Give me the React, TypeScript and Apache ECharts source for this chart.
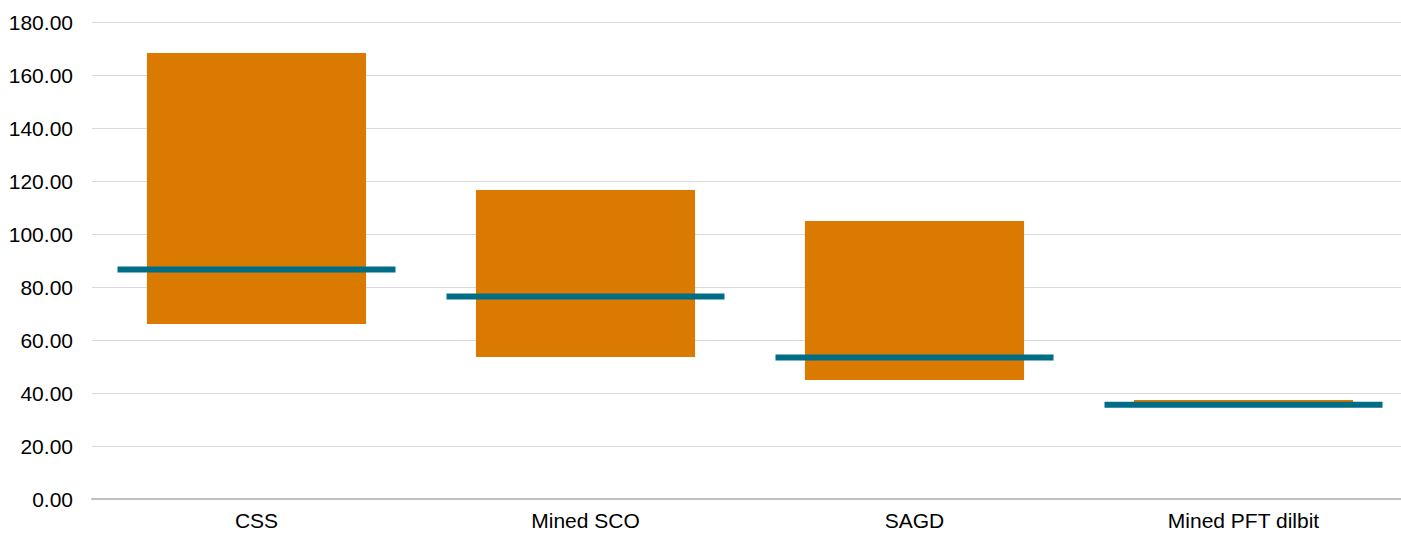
import React, { useEffect, useRef } from "react";
import * as echarts from "echarts";

const categories = ["CSS", "Mined SCO", "SAGD", "Mined PFT dilbit"];
const lowValues = [66.0, 53.6, 44.9, 36.5];
const highValues = [168.3, 116.6, 104.9, 37.4];
const markerValues = [86.6, 76.4, 53.4, 35.6];

export default function App() {
  const ref = useRef<HTMLDivElement>(null);
  useEffect(() => {
    if (!ref.current) return;
    const chart = echarts.init(ref.current, null, { renderer: "svg" });
    const font = "'Liberation Sans', Arial, sans-serif";
    chart.setOption({
      animation: false,
      grid: { left: 92, top: 22, width: 1316, height: 477, containLabel: false },
      xAxis: {
        type: "category",
        data: categories,
        axisLine: { lineStyle: { color: "#bfbfbf", width: 2 } },
        axisTick: { show: false },
        axisLabel: { color: "#000", fontFamily: font, fontSize: 21, margin: 11 },
      },
      yAxis: {
        type: "value",
        min: 0,
        max: 180,
        interval: 20,
        axisLine: { show: false },
        axisTick: { show: false },
        splitLine: { lineStyle: { color: "#d9d9d9", width: 1 } },
        axisLabel: {
          color: "#000",
          fontFamily: font,
          fontSize: 21,
          margin: 19,
          formatter: (v: number) => v.toFixed(2),
        },
      },
      series: [
        {
          type: "bar",
          stack: "range",
          data: lowValues,
          itemStyle: { color: "transparent" },
          barWidth: "66.6%",
          silent: true,
        },
        {
          type: "bar",
          stack: "range",
          data: highValues.map((h, i) => +(h - lowValues[i]).toFixed(2)),
          itemStyle: { color: "#DB7A00" },
          barWidth: "66.6%",
        },
        {
          type: "custom",
          data: markerValues.map((v, i) => [i, v]),
          encode: { x: 0, y: 1 },
          z: 10,
          renderItem: (params: any, api: any) => {
            const pt = api.coord([api.value(0), api.value(1)]);
            const band = api.size([1, 0])[0];
            const w = band * 0.845;
            return {
              type: "rect",
              shape: { x: pt[0] - w / 2, y: pt[1] - 3, width: w, height: 6 },
              style: { fill: "#006D86" },
            };
          },
        },
      ],
    });
    return () => chart.dispose();
  }, []);
  return (
    <div
      style={{ position: "absolute", left: 0, top: 0, width: 1401, height: 533, overflow: "hidden", background: "#fff" }}
    >
      <div ref={ref} style={{ width: 1420, height: 533 }} />
    </div>
  );
}
